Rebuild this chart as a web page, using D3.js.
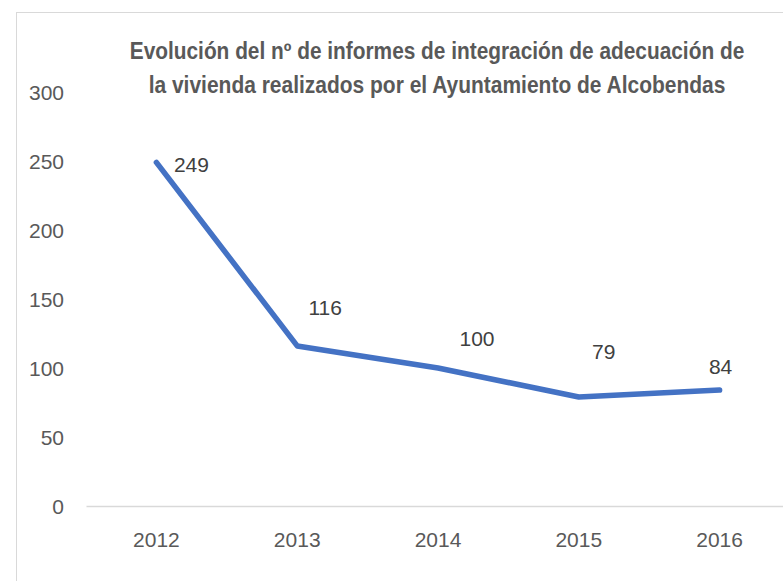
<!DOCTYPE html>
<html>
<head>
<meta charset="utf-8">
<script src="https://cdn.jsdelivr.net/npm/d3@7"></script>
<style>
  html, body { margin: 0; padding: 0; background: #fff; }
  svg { display: block; }
</style>
</head>
<body>
<svg id="chart" width="783" height="581"></svg>
<script>
// ---- data ----
const categories = ["2012", "2013", "2014", "2015", "2016"];
const values = [249, 116, 100, 79, 84];
const yTicks = [0, 50, 100, 150, 200, 250, 300];
const titleLines = [
  "Evolución del nº de informes de integración de adecuación de",
  "la vivienda realizados por el Ayuntamiento de Alcobendas"
];

// ---- layout (not data) ----
const W = 783, H = 581;
const labelOffsets = [[35, 2], [28, -38], [39, -30], [25, -46], [1, -24]];
const FONT = "'Liberation Sans', Arial, sans-serif";

const svg = d3.select("#chart");

// chart border (extends past the viewport on right/bottom)
svg.append("rect")
  .attr("x", 16.5).attr("y", 12.5)
  .attr("width", W + 20).attr("height", H + 20)
  .attr("fill", "#fff").attr("stroke", "#d9d9d9").attr("stroke-width", 1);

const x = d3.scaleBand().domain(categories).range([86, 790]).padding(0);
const y = d3.scaleLinear().domain([0, 300]).range([506, 92]);

// title (horizontally condensed to match the reference widths)
const titleWidths = [615, 577];
titleLines.forEach((t, i) => {
  const g = svg.append("g");
  const txt = g.append("text")
    .attr("x", 0).attr("y", 0)
    .attr("text-anchor", "middle")
    .attr("font-family", FONT)
    .attr("font-weight", "bold")
    .attr("font-size", 23)
    .attr("fill", "#595959")
    .text(t);
  const natural = txt.node().getComputedTextLength();
  const sx = titleWidths[i] / natural;
  g.attr("transform", `translate(437,${59 + i * 34}) scale(${sx},1)`);
});

// y axis (labels only)
const yAxis = d3.axisLeft(y).tickValues(yTicks).tickSize(0).tickPadding(0);
const gy = svg.append("g").attr("transform", "translate(64,0)").call(yAxis);
gy.select(".domain").remove();
gy.selectAll("text")
  .attr("font-family", FONT).attr("font-size", 21)
  .attr("fill", "#595959").attr("dy", "0.36em");

// x axis
const xAxis = d3.axisBottom(x).tickSize(0).tickPadding(0);
const gx = svg.append("g").attr("transform", `translate(0,${y(0)})`).call(xAxis);
gx.select(".domain").attr("stroke", "#d9d9d9").attr("stroke-width", 1.5);
gx.selectAll("text")
  .attr("font-family", FONT).attr("font-size", 21)
  .attr("fill", "#595959").attr("y", 41).attr("dy", 0);

// line
const data = categories.map((c, i) => ({ c, v: values[i], i }));
const line = d3.line()
  .x(d => x(d.c) + x.bandwidth() / 2)
  .y(d => y(d.v));
svg.append("path")
  .datum(data)
  .attr("d", line)
  .attr("fill", "none")
  .attr("stroke", "#4472C4")
  .attr("stroke-width", 5.5)
  .attr("stroke-linecap", "round")
  .attr("stroke-linejoin", "round");

// data labels
svg.append("g").selectAll("text")
  .data(data)
  .join("text")
  .attr("x", d => x(d.c) + x.bandwidth() / 2 + labelOffsets[d.i][0])
  .attr("y", d => y(d.v) + labelOffsets[d.i][1])
  .attr("dy", "0.36em")
  .attr("text-anchor", "middle")
  .attr("font-family", FONT)
  .attr("font-size", 21)
  .attr("fill", "#404040")
  .text(d => d.v);
</script>
</body>
</html>
